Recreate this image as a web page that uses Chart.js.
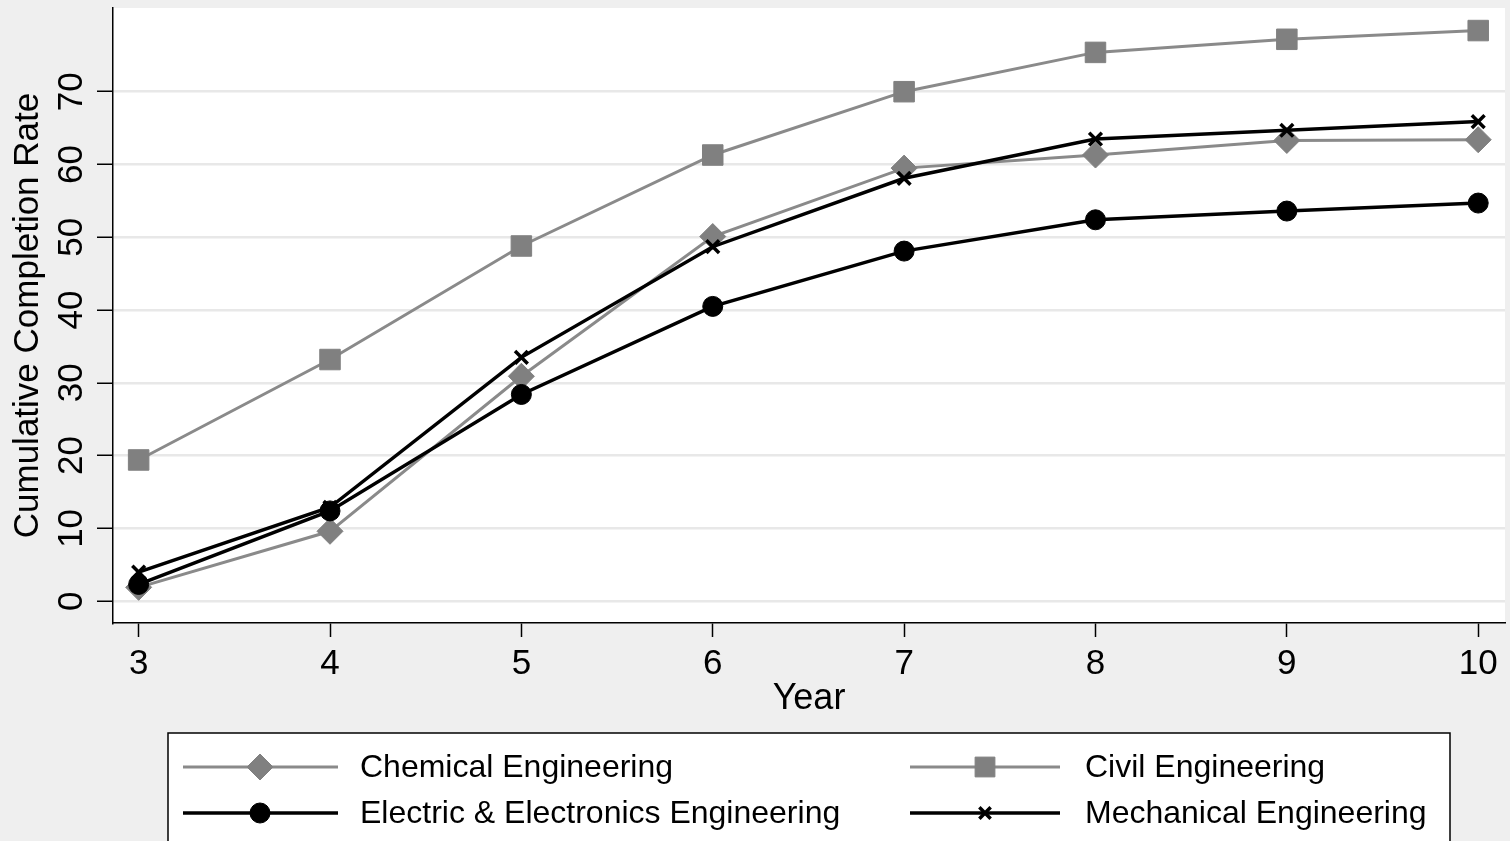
<!DOCTYPE html>
<html>
<head>
<meta charset="utf-8">
<script src="https://cdn.jsdelivr.net/npm/chart.js@4"></script>
<style>
  html, body { margin: 0; padding: 0; background: #efefef; }
  #wrap { width: 1510px; height: 841px; position: relative; }
</style>
</head>
<body>
<div id="wrap"><canvas id="completionChart"></canvas></div>
<script>
const years = [3, 4, 5, 6, 7, 8, 9, 10];
const chemical = [1.9, 9.6, 30.9, 50.1, 59.5, 61.3, 63.3, 63.4];
const civil = [19.4, 33.2, 48.8, 61.3, 70.0, 75.4, 77.2, 78.4];
const electric = [2.3, 12.4, 28.4, 40.5, 48.1, 52.4, 53.6, 54.7];
const mechanical = [4.0, 12.9, 33.5, 48.7, 58.1, 63.5, 64.7, 65.9];
const yTicks = [0, 10, 20, 30, 40, 50, 60, 70];
const xTicks = years;

const FONT = '"Liberation Sans", Arial, sans-serif';
const GREY = '#808080';
const GREY_LINE = '#8a8a8a';

function toPoints(values) {
    return years.map((yr, i) => ({ x: yr, y: values[i] }));
}

// background: grey page, white plot region
const backdrop = {
    id: 'backdrop',
    beforeDraw(chart) {
        const { ctx, chartArea: a } = chart;
        ctx.save();
        ctx.fillStyle = '#efefef';
        ctx.fillRect(0, 0, chart.width, chart.height);
        ctx.fillStyle = '#ffffff';
        ctx.fillRect(a.left, a.top, a.right - a.left, a.bottom - a.top);
        ctx.restore();
    }
};

// Stata-style legend box: line sample with marker, two columns
const boxLegend = {
    id: 'boxLegend',
    afterDraw(chart) {
        const ctx = chart.ctx;
        const boxLeft = 168, boxTop = 733, boxRight = 1450;
        const rows = [767, 813];
        const cols = [{ l: 183, m: 260, r: 338, t: 360 }, { l: 910, m: 985, r: 1060, t: 1085 }];
        ctx.save();
        ctx.fillStyle = '#ffffff';
        ctx.fillRect(boxLeft, boxTop, boxRight - boxLeft, 200);
        ctx.strokeStyle = '#000000';
        ctx.lineWidth = 1.5;
        ctx.strokeRect(boxLeft, boxTop, boxRight - boxLeft, 200);

        chart.data.datasets.forEach((ds, k) => {
            const col = cols[k % 2];
            const y = rows[Math.floor(k / 2)];
            ctx.strokeStyle = ds.borderColor;
            ctx.lineWidth = ds.borderWidth;
            ctx.beginPath();
            ctx.moveTo(col.l, y);
            ctx.lineTo(col.r, y);
            ctx.stroke();

            ctx.fillStyle = ds.pointBackgroundColor;
            ctx.strokeStyle = ds.pointBorderColor;
            ctx.lineWidth = ds.pointBorderWidth;
            Chart.helpers.drawPoint(ctx, {
                pointStyle: ds.pointStyle,
                radius: ds.legendRadius,
                borderWidth: ds.pointBorderWidth,
                rotation: 0
            }, col.m, y);

            ctx.fillStyle = '#000000';
            ctx.font = '32px ' + FONT;
            ctx.textAlign = 'left';
            ctx.textBaseline = 'middle';
            ctx.fillText(ds.label, col.t, y + 1);
        });
        ctx.restore();
    }
};

const ctx = document.getElementById('completionChart').getContext('2d');
new Chart(ctx, {
    type: 'line',
    data: {
        datasets: [
            {
                label: 'Chemical Engineering',
                data: toPoints(chemical),
                borderColor: GREY_LINE,
                borderWidth: 3,
                pointStyle: 'rectRot',
                pointRadius: 13,
                legendRadius: 13,
                pointBackgroundColor: GREY,
                pointBorderColor: GREY,
                pointBorderWidth: 1,
                order: 4
            },
            {
                label: 'Civil Engineering',
                data: toPoints(civil),
                borderColor: GREY_LINE,
                borderWidth: 3,
                pointStyle: 'rect',
                pointRadius: 14.5,
                legendRadius: 14,
                pointBackgroundColor: GREY,
                pointBorderColor: GREY,
                pointBorderWidth: 1,
                order: 3
            },
            {
                label: 'Electric & Electronics Engineering',
                data: toPoints(electric),
                borderColor: '#000000',
                borderWidth: 3.5,
                pointStyle: 'circle',
                pointRadius: 10,
                legendRadius: 10,
                pointBackgroundColor: '#000000',
                pointBorderColor: '#000000',
                pointBorderWidth: 1,
                order: 2
            },
            {
                label: 'Mechanical Engineering',
                data: toPoints(mechanical),
                borderColor: '#000000',
                borderWidth: 3.5,
                pointStyle: 'crossRot',
                pointRadius: 9,
                legendRadius: 8,
                pointBackgroundColor: '#000000',
                pointBorderColor: '#000000',
                pointBorderWidth: 3.5,
                order: 1
            }
        ]
    },
    options: {
        responsive: true,
        maintainAspectRatio: false,
        animation: false,
        layout: {
            autoPadding: false,
            padding: { top: 8, right: 5, bottom: 120, left: 0 }
        },
        elements: { line: { tension: 0 } },
        plugins: {
            legend: { display: false },
            tooltip: { enabled: false }
        },
        scales: {
            x: {
                type: 'linear',
                min: 2.866,
                max: 10.14,
                afterBuildTicks: axis => { axis.ticks = xTicks.map(v => ({ value: v })); },
                afterFit: axis => {
                    axis.height = 98;
                    axis.paddingLeft = 0;
                    axis.paddingRight = 0;
                },
                grid: {
                    drawOnChartArea: false,
                    tickLength: 14,
                    tickColor: '#000000',
                    tickWidth: 1.5
                },
                border: { display: true, color: '#000000', width: 1.5 },
                ticks: {
                    color: '#000000',
                    font: { family: FONT, size: 35 },
                    padding: 6,
                    maxRotation: 0,
                    minRotation: 0
                },
                title: {
                    display: true,
                    text: 'Year',
                    color: '#000000',
                    font: { family: FONT, size: 36 },
                    padding: { top: 0, bottom: 0 }
                }
            },
            y: {
                type: 'linear',
                min: -3.0,
                max: 81.5,
                afterBuildTicks: axis => { axis.ticks = yTicks.map(v => ({ value: v })); },
                afterFit: axis => {
                    axis.width = 113;
                    axis.paddingTop = 0;
                    axis.paddingBottom = 0;
                },
                grid: {
                    color: '#e8e8e8',
                    lineWidth: 2.5,
                    tickLength: 16,
                    tickColor: '#000000',
                    tickWidth: 1.5
                },
                border: { display: true, color: '#000000', width: 1.5 },
                ticks: {
                    color: '#000000',
                    font: { family: FONT, size: 35 },
                    padding: 5,
                    minRotation: 90,
                    maxRotation: 90,
                    crossAlign: 'center'
                },
                title: {
                    display: true,
                    text: 'Cumulative Completion Rate',
                    color: '#000000',
                    font: { family: FONT, size: 35 },
                    padding: { top: 7, bottom: 0 }
                }
            }
        }
    },
    plugins: [backdrop, boxLegend]
});
</script>
</body>
</html>
